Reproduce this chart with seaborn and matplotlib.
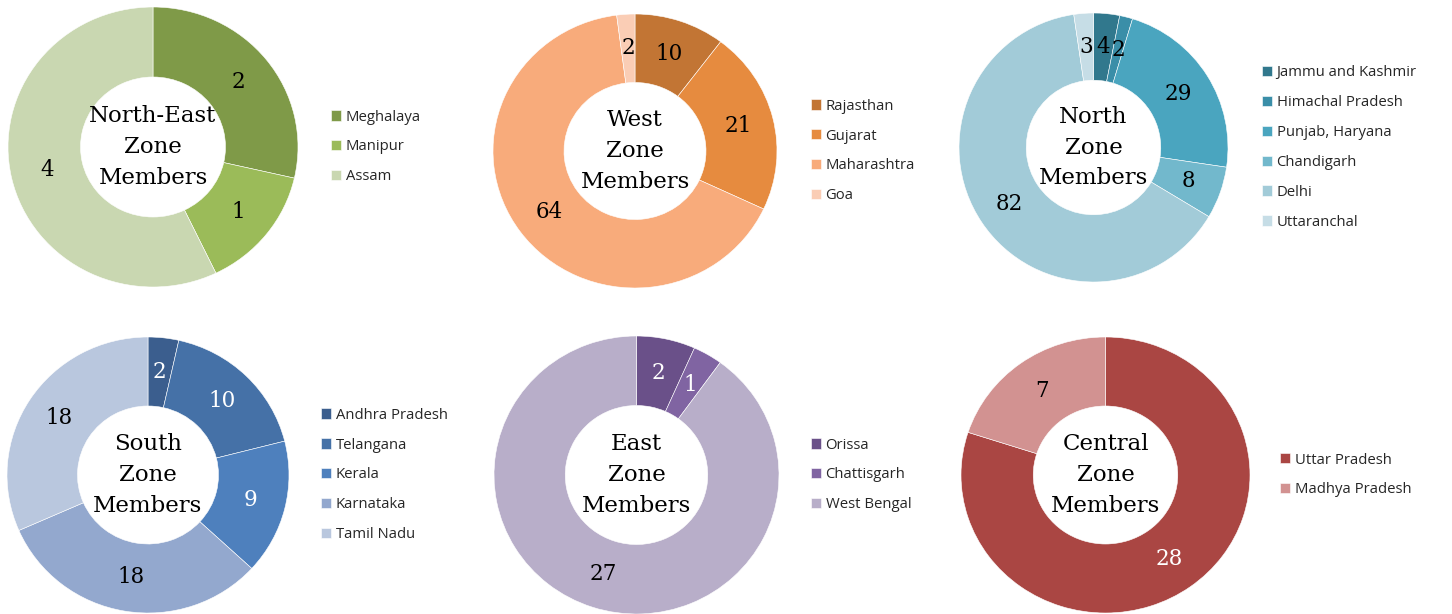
import matplotlib
matplotlib.use("Agg")
import matplotlib.pyplot as plt
import seaborn as sns

sns.set_theme(style="white")
plt.rcParams['font.family'] = ['DejaVu Serif']

W, H = 1452, 614

# ---- data ----
ne_states = ["Meghalaya", "Manipur", "Assam"]
ne_values = [2, 1, 4]
ne_colors = ["#7f9a48", "#9bbb59", "#c9d7b1"]

west_states = ["Rajasthan", "Gujarat", "Maharashtra", "Goa"]
west_values = [10, 21, 64, 2]
west_colors = ["#c27534", "#e68b3f", "#f8ab7b", "#facdb5"]

north_states = ["Jammu and Kashmir", "Himachal Pradesh", "Punjab, Haryana",
                "Chandigarh", "Delhi", "Uttaranchal"]
north_values = [4, 2, 29, 8, 82, 3]
north_colors = ["#31788d", "#3a8ea8", "#4aa5bf", "#72b8cc", "#a2cbd8", "#c6dde6"]

south_states = ["Andhra Pradesh", "Telangana", "Kerala", "Karnataka", "Tamil Nadu"]
south_values = [2, 10, 9, 18, 18]
south_colors = ["#3b5e8e", "#4571a7", "#4e80bd", "#93a8ce", "#b9c7de"]
south_label_colors = ["white", "white", "white", "black", "black"]

east_states = ["Orissa", "Chattisgarh", "West Bengal"]
east_values = [2, 1, 27]
east_colors = ["#6a5089", "#8064a2", "#b8aec9"]
east_label_colors = ["white", "white", "black"]

central_states = ["Uttar Pradesh", "Madhya Pradesh"]
central_values = [28, 7]
central_colors = ["#aa4643", "#d29291"]
central_label_colors = ["white", "black"]

titles = ["North-East\nZone\nMembers", "West\nZone\nMembers", "North\nZone\nMembers",
          "South\nZone\nMembers", "East\nZone\nMembers", "Central\nZone\nMembers"]

# layout (pixel geometry: center x, center y, radius x, radius y, legend x)
layout = [
    (153, 147, 145, 140, 331),
    (635, 151, 142, 137, 811),
    (1093.5, 147.5, 134.5, 134.5, 1262),
    (148, 475, 141, 138, 321),
    (636.5, 475, 142.5, 139, 811),
    (1105.5, 475, 144.5, 138, 1280),
]

charts = [
    (ne_states, ne_values, ne_colors, None),
    (west_states, west_values, west_colors, None),
    (north_states, north_values, north_colors, None),
    (south_states, south_values, south_colors, south_label_colors),
    (east_states, east_values, east_colors, east_label_colors),
    (central_states, central_values, central_colors, central_label_colors),
]

fig = plt.figure(figsize=(W / 100, H / 100), dpi=100)
fig.patch.set_facecolor("white")

for (states, values, colors, lcolors), title, (cx, cy, rx, ry, lx) in zip(charts, titles, layout):
    ax = fig.add_axes([(cx - rx) / W, (H - (cy + ry)) / H, 2 * rx / W, 2 * ry / H])
    total = sum(values)
    wedges, _, autotexts = ax.pie(
        values, colors=colors, startangle=90, counterclock=False, radius=1,
        wedgeprops=dict(width=0.5, edgecolor="white", linewidth=0.4),
        autopct=lambda p, t=total: f"{p * t / 100:.0f}", pctdistance=0.75,
        textprops=dict(fontsize=15.5, family="DejaVu Serif"))
    for i, t in enumerate(autotexts):
        t.set_color(lcolors[i] if lcolors else "black")
    ax.set_aspect("auto")
    ax.set_xlim(-1, 1)
    ax.set_ylim(-1, 1)
    ax.axis("off")
    ax.text(0, 0, title, ha="center", va="center", fontsize=16.5,
            family="DejaVu Serif", color="black", linespacing=1.5)
    ax.legend(wedges, states, loc="center left",
              bbox_to_anchor=(lx / W, 1 - cy / H), bbox_transform=fig.transFigure,
              frameon=False, prop=dict(family="Open Sans", size=10.7),
              handlelength=0.68, handleheight=0.68, handletextpad=0.3,
              labelspacing=1.0, borderpad=0, borderaxespad=0)

fig.savefig("out.png", dpi=100, facecolor="white")
